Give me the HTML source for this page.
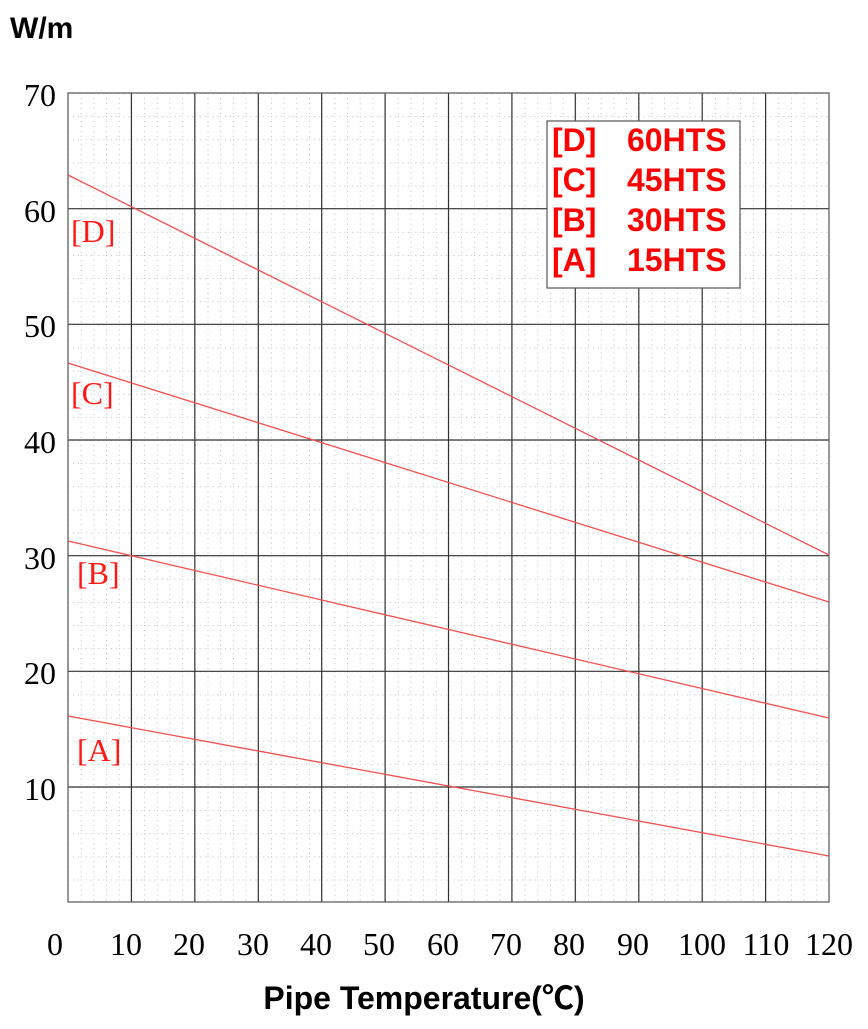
<!DOCTYPE html>
<html><head><meta charset="utf-8"><style>
html,body{margin:0;padding:0;background:#fff;width:868px;height:1029px;overflow:hidden}
</style></head><body>
<svg width="868" height="1029" viewBox="0 0 868 1029" xmlns="http://www.w3.org/2000/svg">
<defs>
<pattern id="mg" x="68" y="93" width="12.683" height="23.133" patternUnits="userSpaceOnUse">
<line x1="0.5" y1="0" x2="0.5" y2="23.133" stroke="#bbb" stroke-width="1" stroke-dasharray="1,4"/>
<line x1="0" y1="0.5" x2="12.683" y2="0.5" stroke="#bbb" stroke-width="1" stroke-dasharray="1,4"/>
</pattern>
</defs>
<rect x="68" y="93" width="761" height="809" fill="url(#mg)"/>
<g stroke="#333" stroke-width="1.2">
<line x1="131.4" y1="93" x2="131.4" y2="902"/>
<line x1="194.8" y1="93" x2="194.8" y2="902"/>
<line x1="258.3" y1="93" x2="258.3" y2="902"/>
<line x1="321.7" y1="93" x2="321.7" y2="902"/>
<line x1="385.1" y1="93" x2="385.1" y2="902"/>
<line x1="448.5" y1="93" x2="448.5" y2="902"/>
<line x1="511.9" y1="93" x2="511.9" y2="902"/>
<line x1="575.3" y1="93" x2="575.3" y2="902"/>
<line x1="638.8" y1="93" x2="638.8" y2="902"/>
<line x1="702.2" y1="93" x2="702.2" y2="902"/>
<line x1="765.6" y1="93" x2="765.6" y2="902"/>
<line x1="68" y1="208.7" x2="829" y2="208.7"/>
<line x1="68" y1="324.3" x2="829" y2="324.3"/>
<line x1="68" y1="440" x2="829" y2="440"/>
<line x1="68" y1="555.7" x2="829" y2="555.7"/>
<line x1="68" y1="671.3" x2="829" y2="671.3"/>
<line x1="68" y1="787" x2="829" y2="787"/>
</g>
<rect x="68" y="93" width="761" height="809" fill="none" stroke="#555" stroke-width="1.2"/>
<g stroke="#f05050" stroke-width="1.3">
<line x1="68" y1="175" x2="829" y2="555"/>
<line x1="68" y1="363" x2="829" y2="602"/>
<line x1="68" y1="541" x2="829" y2="718"/>
<line x1="68" y1="716" x2="829" y2="856"/>
</g>
<g font-family="Liberation Serif, serif" font-size="32" fill="#ff1a1a">
<text x="71" y="242">[D]</text>
<text x="71" y="404">[C]</text>
<text x="77" y="584">[B]</text>
<text x="77" y="761">[A]</text>
</g>
<rect x="547" y="121" width="193" height="167" fill="#fff" stroke="#555" stroke-width="1.2"/>
<g font-family="Liberation Sans, sans-serif" font-weight="bold" font-size="32" fill="#ff0000">
<text x="552" y="151">[D]</text><text x="627" y="151">60HTS</text>
<text x="552" y="191">[C]</text><text x="627" y="191">45HTS</text>
<text x="552" y="231">[B]</text><text x="627" y="231">30HTS</text>
<text x="552" y="271">[A]</text><text x="627" y="271">15HTS</text>
</g>
<g font-family="Liberation Serif, serif" font-size="32" fill="#000" text-anchor="end">
<text x="56" y="106">70</text>
<text x="56" y="222">60</text>
<text x="56" y="337">50</text>
<text x="56" y="453">40</text>
<text x="56" y="569">30</text>
<text x="56" y="684">20</text>
<text x="56" y="800">10</text>
</g>
<g font-family="Liberation Serif, serif" font-size="32" fill="#000" text-anchor="middle">
<text x="55" y="955">0</text>
<text x="126" y="955">10</text>
<text x="189" y="955">20</text>
<text x="253" y="955">30</text>
<text x="316" y="955">40</text>
<text x="379" y="955">50</text>
<text x="443" y="955">60</text>
<text x="506" y="955">70</text>
<text x="569" y="955">80</text>
<text x="633" y="955">90</text>
<text x="702" y="955">100</text>
<text x="766" y="955">110</text>
<text x="829" y="955">120</text>
</g>
<text x="424" y="1009" font-family="Liberation Sans, 'Noto Sans CJK SC', sans-serif" font-weight="bold" font-size="32" text-anchor="middle">Pipe Temperature(℃)</text>
<text x="10" y="38" font-family="Liberation Sans, sans-serif" font-weight="bold" font-size="30">W/m</text>
</svg>
</body></html>
